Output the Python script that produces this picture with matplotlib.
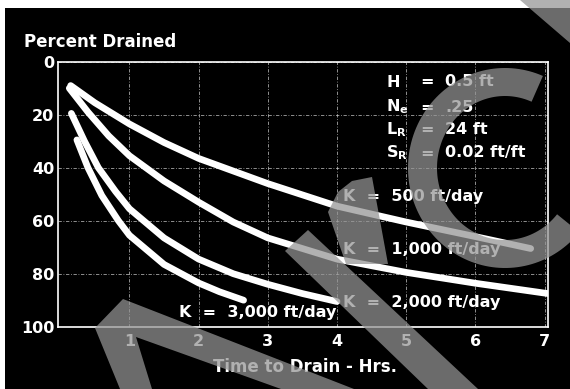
import numpy as np
import matplotlib.pyplot as plt
from matplotlib.patches import Polygon, Rectangle

plt.rcParams['font.family'] = ['DejaVu Sans']
plt.rcParams['font.weight'] = 'bold'
plt.rcParams['mathtext.fontset'] = 'custom'
plt.rcParams['mathtext.rm'] = 'DejaVu Sans:bold'
plt.rcParams['mathtext.bf'] = 'DejaVu Sans:bold'
plt.rcParams['mathtext.it'] = 'DejaVu Sans:bold'

# values: time (hrs) vs percent drained
t_500 = [0.15, 0.5, 1.0, 1.5, 2.0, 3.0, 4.0, 5.0, 6.0, 6.8]
p_500 = [9, 15.5, 23.5, 30.5, 36.5, 46, 54.5, 60.5, 66, 70.5]
t_1000 = [0.13, 0.4, 0.7, 1.0, 1.5, 2.0, 2.5, 3.0, 4.0, 5.0, 6.0, 7.05]
p_1000 = [10, 19, 28, 35.5, 45, 53, 60.5, 66.5, 74.5, 79.5, 83.6, 87.5]
t_2000 = [0.16, 0.35, 0.55, 0.8, 1.0, 1.5, 2.0, 2.5, 3.0, 3.5, 4.0]
p_2000 = [19.5, 30, 40, 49, 55.5, 66.5, 74.5, 80, 84, 87.5, 90.5]
t_3000 = [0.24, 0.4, 0.6, 0.84, 1.0, 1.5, 2.0, 2.3, 2.65]
p_3000 = [29.5, 40, 50.5, 60, 65.5, 76.5, 83.5, 86.8, 90]

x_ticks = [1, 2, 3, 4, 5, 6, 7]
y_ticks = [0, 20, 40, 60, 80, 100]

W, H = 570, 389
fig = plt.figure(figsize=(W / 100, H / 100), dpi=100, facecolor='white')

def fx(px):
    return px / W

def fy(py):
    return 1 - py / H

# black scanned panel
fig.add_artist(Rectangle((fx(5), 0), 1, fy(8), transform=fig.transFigure,
                         facecolor='black', edgecolor='none', zorder=0))

ax = fig.add_axes([fx(58.2), fy(326.7), fx(548) - fx(58.2), fy(61.7) - fy(326.7)])
ax.set_facecolor('black')

for t, p in [(t_500, p_500), (t_1000, p_1000), (t_2000, p_2000), (t_3000, p_3000)]:
    ax.plot(t, p, color='white', lw=4.8, solid_capstyle='round',
            solid_joinstyle='round', zorder=3)

ax.set_xlim(-0.03, 7.05)
ax.set_ylim(100, 0)
ax.set_xticks(x_ticks)
ax.set_yticks(y_ticks)
ax.tick_params(length=0, colors='white', labelsize=11.5)
ax.tick_params(axis='y', pad=2.7)
ax.tick_params(axis='x', pad=5.5)
for lab in ax.get_xticklabels() + ax.get_yticklabels():
    lab.set_fontweight('bold')
for s in ax.spines.values():
    s.set_color('white')
    s.set_linewidth(1.2)
ax.grid(True, color='#cfcfcf', lw=0.6, alpha=0.8, ls=(0, (4, 2, 1, 2)))

fig.text(fx(23.6), fy(42), 'Percent Drained', color='white', fontsize=12,
         fontweight='bold', va='center', ha='left')
fig.text(fx(305), fy(367), 'Time to Drain - Hrs.', color='white', fontsize=12,
         fontweight='bold', va='center', ha='center')

# parameter block
params = [(r'$\mathbf{H}$', '0.5 ft'), (r'$\mathbf{N_e}$', '.25'),
          (r'$\mathbf{L_R}$', '24 ft'), (r'$\mathbf{S_R}$', '0.02 ft/ft')]
for i, (name, val) in enumerate(params):
    yy = [82, 107, 130, 153][i]
    fig.text(fx(386), fy(yy), name, color='white', fontsize=11.5, va='center')
    fig.text(fx(427), fy(yy), '=', color='white', fontsize=11.5, va='center', ha='center')
    fig.text(fx(445), fy(yy), val, color='white', fontsize=11.5, va='center')

k_labels = ['K  =  500 ft/day', 'K  =  1,000 ft/day', 'K  =  2,000 ft/day', 'K  =  3,000 ft/day']
k_pos = [(4.08, 51), (4.08, 71), (4.08, 90.7), (1.71, 94.8)]
for lab, (xx, yy) in zip(k_labels, k_pos):
    ax.text(xx, yy, lab, color='white', fontsize=11.5, fontweight='bold',
            va='center', ha='left', zorder=4)

# grey watermark strokes laid over the scan
wm = dict(transform=fig.transFigure, facecolor=(0.58, 0.58, 0.58),
          edgecolor='none', alpha=0.73, zorder=10)
def shape(pts):
    fig.add_artist(Polygon([(fx(a), fy(b)) for a, b in pts], closed=True, **wm))

shape([(120, 389), (95, 328), (123, 299), (354, 389), (281, 389), (136, 337), (152, 389)])
shape([(285, 251), (308, 230), (478, 389), (428, 389)])
shape([(328, 212), (338, 192), (352, 181), (372, 177), (388, 264), (346, 264)])
shape([(520, 0), (570, 43), (570, 0)])
th = np.radians(np.linspace(40, 293, 120))
cx, cy = 505, 168
outer = [(cx + 97 * np.cos(a), cy + 100 * np.sin(a)) for a in th]
inner = [(cx + 68 * np.cos(a), cy + 72 * np.sin(a)) for a in th[::-1]]
shape(outer + inner)

fig.savefig('out.png', dpi=100, facecolor='white')
